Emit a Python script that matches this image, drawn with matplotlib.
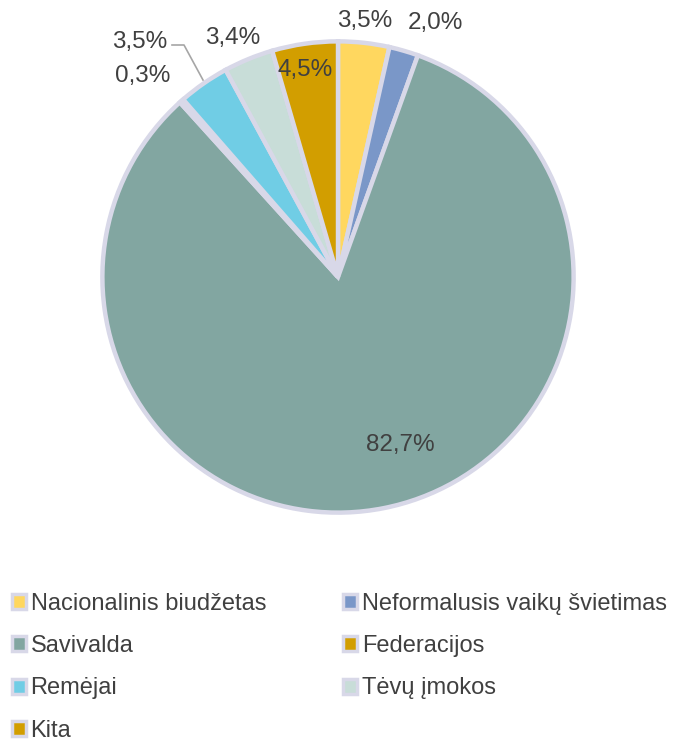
import matplotlib
matplotlib.use("Agg")
import matplotlib.pyplot as plt
from matplotlib.patches import Patch

categories = ["Nacionalinis biudžetas", "Neformalusis vaikų švietimas", "Savivalda",
              "Federacijos", "Remėjai", "Tėvų įmokos", "Kita"]
values = [3.5, 2.0, 82.7, 0.3, 3.5, 3.4, 4.5]
labels = ["3,5%", "2,0%", "82,7%", "0,3%", "3,5%", "3,4%", "4,5%"]
colors = ["#FFD75F", "#7A97C8", "#82A6A1", "#D29E00", "#70CDE5", "#C8DDD8", "#D29E00"]
edge = "#D8D8E8"
txt = "#404040"

plt.rcParams['font.family'] = ['Liberation Sans', 'DejaVu Sans']

W, H = 677, 741
fig = plt.figure(figsize=(W/100, H/100), dpi=100)
cx, cy, R = 338, 277, 238
ax = fig.add_axes([(cx-R)/W, 1-(cy+R)/H, 2*R/W, 2*R/H])

wedges, _ = ax.pie(values, colors=colors, startangle=90, counterclock=False, radius=0.99,
                   wedgeprops=dict(edgecolor=edge, linewidth=3.2))
ax.set_xlim(-1, 1); ax.set_ylim(-1, 1)
ax.set_aspect('equal'); ax.axis('off')

# label positions (pixel coords)
lab_pos = [(365, 21), (435, 23), (400, 445), (143, 76), (140, 42), (233, 38), (305, 70)]
for lab, (px, py) in zip(labels, lab_pos):
    ax.text((px-cx)/R, (cy-py)/R, lab, ha='center', va='center', fontsize=17.5,
            color=txt, clip_on=False)

# leader line for Remėjai
pts = [(172, 45), (184, 45), (203, 80)]
ax.plot([(p[0]-cx)/R for p in pts], [(cy-p[1])/R for p in pts], color="#A6A6A6",
        lw=1.2, clip_on=False)

handles = [Patch(facecolor=c, edgecolor=edge, linewidth=2.5) for c in colors]
order = [0, 2, 4, 6, 1, 3, 5]
leg = fig.legend([handles[i] for i in order], [categories[i] for i in order],
                 ncol=2, loc='upper left', bbox_to_anchor=(7/W, 1-588/H),
                 frameon=False, fontsize=17, labelcolor=txt,
                 handlelength=0.6, handleheight=0.6, handletextpad=0.2,
                 labelspacing=0.86, columnspacing=3.25, borderpad=0.2, borderaxespad=0.0)

fig.savefig("out.png", dpi=100)
